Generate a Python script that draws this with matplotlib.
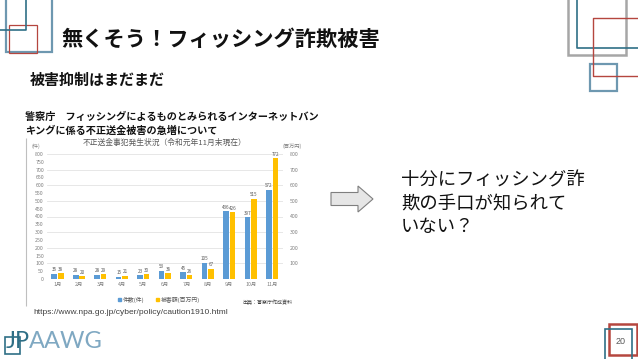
import matplotlib
matplotlib.use("Agg")
import matplotlib.pyplot as plt
from matplotlib.patches import Rectangle, Polygon
import numpy as np

plt.rcParams['font.family'] = ['Noto Sans CJK JP', 'DejaVu Sans']

# ---- data ----
months = ["1月", "2月", "3月", "4月", "5月", "6月", "7月", "8月", "9月", "10月", "11月"]
cases = [35, 28, 28, 15, 23, 53, 45, 105, 436, 397, 572]          # 件数(件)
damage = [38, 20, 29, 21, 30, 36, 26, 67, 426, 515, 772]          # 被害額(百万円)
left_ticks = list(range(0, 801, 50))
right_ticks = list(range(100, 801, 100))

W, H = 638, 359
fig = plt.figure(figsize=(W / 100, H / 100), dpi=100)
fig.patch.set_facecolor("white")

bg = fig.add_axes([0, 0, 1, 1])
bg.set_xlim(0, W)
bg.set_ylim(H, 0)
bg.axis("off")

def rect(x0, y0, x1, y1, color, lw):
    bg.add_patch(Rectangle((x0, y0), x1 - x0, y1 - y0, fill=False, edgecolor=color, lw=lw))

def line(xs, ys, color, lw):
    bg.plot(xs, ys, color=color, lw=lw, solid_capstyle="butt")

steel = "#6E98B0"
teal = "#2F6F86"
red = "#B5463F"
gray = "#A6A6A6"

# top-left decorations
rect(6, -2, 52, 52, steel, 1.6)
rect(9, 25, 37, 53, red, 0.9)
line([0, 26, 26], [30, 30, 0], teal, 1.2)

# top-right decorations
rect(568, -2, 626, 55, gray, 1.8)
line([577, 577, 640], [0, 48, 48], teal, 1.2)
line([640, 593, 593, 640], [18, 18, 76, 76], red, 1.0)
rect(590, 64, 617, 91, steel, 1.6)

# bottom-right page number
rect(609, 324, 637, 355, red, 1.8)
rect(605, 329, 632, 360, teal, 1.2)
bg.text(621, 341, "20", fontsize=6.5, color="#595959", ha="center", va="center",
        family=["Liberation Sans"])

# logo
rect(5, 337, 20, 354, teal, 1.2)
bg.text(6, 341, "JP", fontsize=17, color=teal, ha="left", va="center", family=["Lato"])
bg.text(29, 341, "AAWG", fontsize=17, color="#7FA8C2", ha="left", va="center", family=["Lato"])

# titles
bg.text(61, 39, "無くそう！フィッシング詐欺被害", fontsize=15.3, fontweight="bold",
        color="#111111", ha="left", va="center")
bg.text(30, 80, "被害抑制はまだまだ", fontsize=10.8, fontweight="bold",
        color="#111111", ha="left", va="center")
bg.text(25, 117, "警察庁　フィッシングによるものとみられるインターネットバン", fontsize=7.3,
        fontweight="bold", color="#111111", ha="left", va="center")
bg.text(25, 131, "キングに係る不正送金被害の急増について", fontsize=7.3,
        fontweight="bold", color="#111111", ha="left", va="center")

# chart frame line
line([26, 26], [138, 306], "#BFBFBF", 0.8)

# url
bg.text(33, 313, "https://www.npa.go.jp/cyber/policy/caution1910.html", fontsize=6,
        color="#404040", ha="left", va="center", family=["Liberation Sans"])

# arrow
cy = 199
pts = [(331, cy - 6.5), (358, cy - 6.5), (358, cy - 13), (373, cy), (358, cy + 13),
       (358, cy + 6.5), (331, cy + 6.5)]
bg.add_patch(Polygon(pts, closed=True, facecolor="#E6E6E6", edgecolor="#7F7F7F", lw=0.8))

# right text
for i, t in enumerate(["十分にフィッシング詐", "欺の手口が知られて", "いない？"]):
    bg.text(401, 180 + i * 23.5, t, fontsize=13.2, color="#111111", ha="left", va="center")

# chart title
bg.text(165, 143, "不正送金事犯発生状況（令和元年11月末現在）", fontsize=5.6, color="#595959",
        ha="center", va="center")
bg.text(36, 146, "(件)", fontsize=3.8, color="#7F7F7F", ha="center", va="center")
bg.text(292, 146, "(百万円)", fontsize=3.8, color="#7F7F7F", ha="center", va="center")

# ---- chart ----
x0, x1, yb, yt = 46.75, 283, 279, 154
ax = fig.add_axes([x0 / W, 1 - yb / H, (x1 - x0) / W, (yb - yt) / H])
ax.set_facecolor("none")
x = np.arange(len(months))
wdt = 0.26
off = 0.15
ax.bar(x - off, cases, width=wdt, color="#5B9BD5", zorder=3)
ax.bar(x + off, damage, width=wdt, color="#FFC000", zorder=3)
for xi, v in zip(x, cases):
    ax.text(xi - off, v + 8, str(v), fontsize=3.3, color="#595959", ha="center", va="bottom")
for xi, v in zip(x, damage):
    ax.text(xi + off, v + 8, str(v), fontsize=3.3, color="#595959", ha="center", va="bottom")
ax.set_xlim(-0.5, len(months) - 0.5)
ax.set_ylim(0, 800)
ax.set_xticks(x)
ax.set_xticklabels(months, fontsize=3.8, color="#7F7F7F")
ax.set_yticks(left_ticks)
ax.set_yticklabels([str(v) for v in left_ticks], fontsize=3.8, color="#7F7F7F")
ax.tick_params(length=0, pad=2)
for r in right_ticks:
    ax.axhline(r, color="#E3E3E3", lw=0.6, zorder=0)
for s in ax.spines.values():
    s.set_visible(False)
ax.axhline(0, color="#D9D9D9", lw=0.6, zorder=1)

ax2 = ax.twinx()
ax2.set_ylim(0, 800)
ax2.set_yticks(right_ticks)
ax2.set_yticklabels([str(v) for v in right_ticks], fontsize=3.8, color="#7F7F7F")
ax2.tick_params(length=0, pad=5)
for s in ax2.spines.values():
    s.set_visible(False)

# legend
bg.add_patch(Rectangle((118, 297.5), 3, 3, color="#5B9BD5"))
bg.text(123, 299.5, "件数(件)", fontsize=4.2, color="#595959", ha="left", va="center")
bg.add_patch(Rectangle((156, 297.5), 3, 3, color="#FFC000"))
bg.text(161, 299.5, "被害額(百万円)", fontsize=4.2, color="#595959", ha="left", va="center")
bg.text(242, 302, "出典：警察庁作成資料", fontsize=3.6, color="#404040", ha="left", va="center")

fig.savefig("out.png", dpi=100, facecolor="white")
